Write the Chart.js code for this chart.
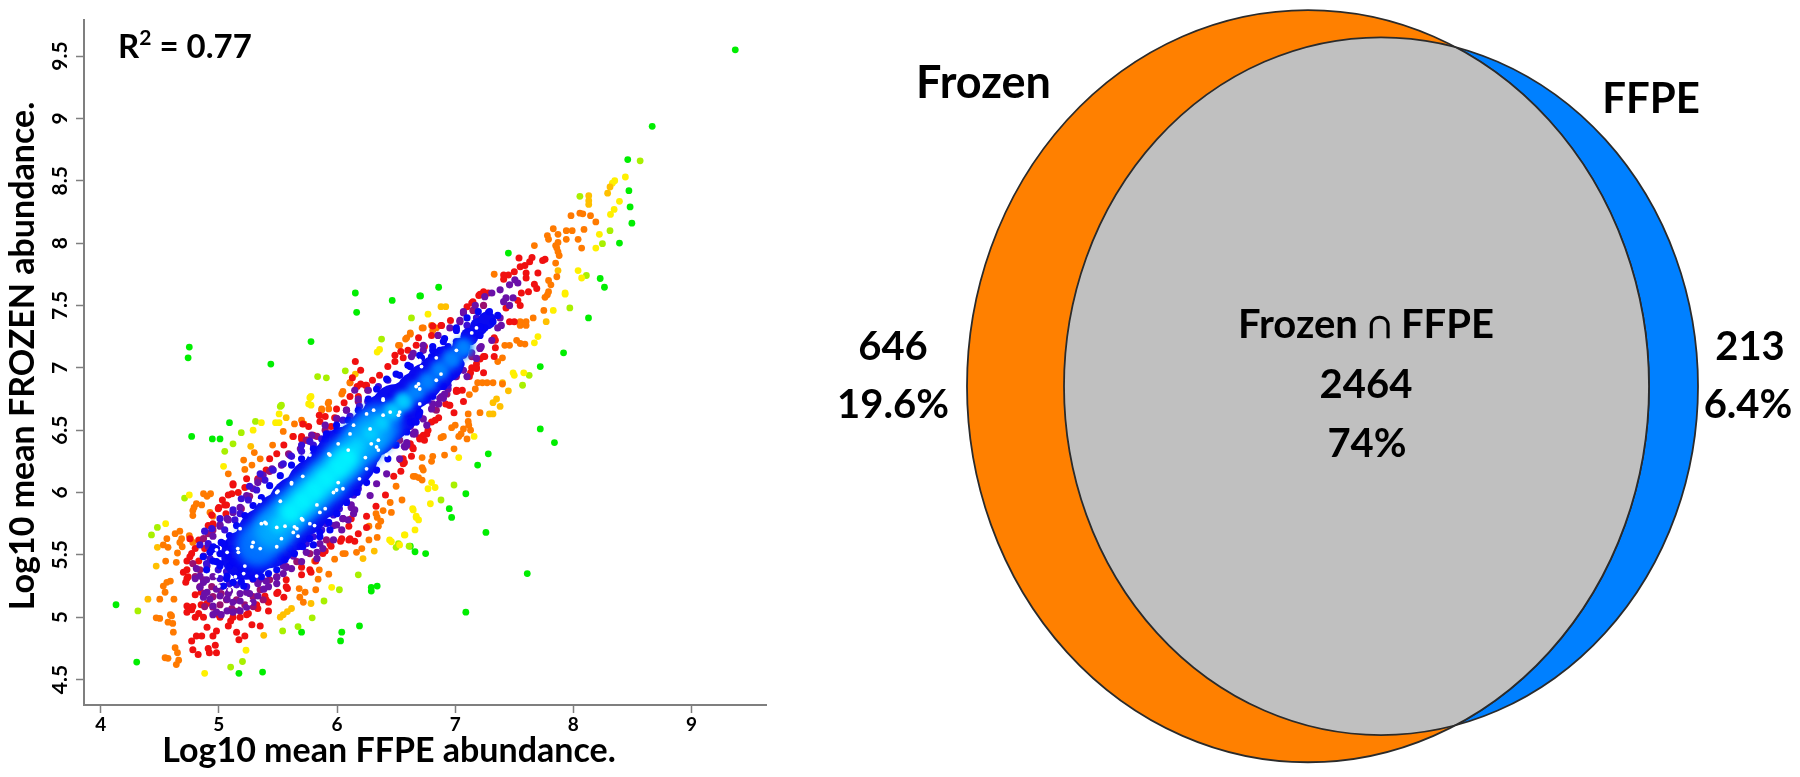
<!DOCTYPE html>
<html>
<head>
<meta charset="utf-8">
<title>Frozen vs FFPE</title>
<script src="https://cdn.jsdelivr.net/npm/chart.js@4"></script>
<style>
  html, body { margin: 0; padding: 0; background: #fff; }
  #wrap { position: relative; width: 1800px; height: 777px; overflow: hidden; }
  #scatterBox { position: absolute; left: 0; top: 0; width: 800px; height: 777px; }
  #vennBox { position: absolute; left: 800px; top: 0; width: 1000px; height: 777px; }
</style>
</head>
<body>
<div id="wrap">
  <div id="scatterBox"><canvas id="scatterChart"></canvas></div>
  <div id="vennBox"><canvas id="vennChart"></canvas></div>
</div>
<script>
// axis ticks
const xTicks = [4, 5, 6, 7, 8, 9];
const yTicks = [4.5, 5, 5.5, 6, 6.5, 7, 7.5, 8, 8.5, 9, 9.5];
const xAxisName = 'Log10 mean FFPE abundance.';
const yAxisName = 'Log10 mean FROZEN abundance.';
const r2Parts = ['R', '2', ' = 0.77'];

// sparse points, grouped by density colour
const greenPts = [[6.155,7.6],[6.166,7.445],[6.467,7.54],[6.7,7.576],[5.78,7.21],[4.75,7.166],[4.74,7.08],[5.44,7.03],
  [9.37,9.55],[8.667,8.936],[8.46,8.67],[8.47,8.42],[8.48,8.29],[8.495,8.16],[8.39,8],[7.45,7.92],[8.227,7.716],[8.263,7.646],
  [8.128,7.4],[7.917,7.12],[7.72,7.01],[6.86,7.646],[6.707,7.576],[7.72,6.51],[7.84,6.4],[7.28,6.31],[7.19,6.22],[7.09,5.99],
  [6.97,5.8],[6.95,5.87],[7.26,5.68],[6.75,5.51],[6.66,5.525],[7.61,5.35],[7.09,5.04],[4.13,5.1],[4.305,4.64],[4.77,6.45],
  [4.945,6.43],[5.01,6.43],[5.09,6.56],[6.03,4.81],[6.04,4.88],[6.19,4.93],[5.7,4.88],[6.29,5.24],[6.29,5.21],[6.34,5.25],
  [5.17,4.55],[5.37,4.56],[6.62,5.57]];
const limePts = [[5.836,6.93],[5.91,6.92],[6.07,6.976],[6.377,7.23],[6.63,7.4],[8.565,8.66],[8.055,8.375],[7.97,7.48],[7.626,6.94],
  [7.57,6.86],[8.31,8.1],[8.246,7.995],[8.11,7.74],[6.99,6.06],[6.88,5.94],[6.61,5.57],[4.315,5.05],[4.43,5.66],[4.48,5.72],
  [4.71,5.955],[5.12,6.39],[5.05,6.33],[5.19,6.48],[5.31,6.57],[5.52,6.69],[5.53,6.7],[5.67,4.925],[5.54,4.89],[5.79,4.995],
  [5.89,5.13],[6.02,5.22],[6.18,5.34],[6.52,5.59],[6.5,5.56],[5.1,4.6],[5.2,4.645]];
const yellowPts = [[6.34,7.126],[6.36,7.147],[5.77,6.76],[8.44,8.53],[8.35,8.5],[8.33,8.48],[8.39,8.335],[8.345,8.27],[8.314,8.23],
  [8.22,8.07],[8.19,7.96],[8.04,7.78],[8.07,7.72],[7.93,7.6],[7.93,7.59],[7.83,7.46],[7.7,7.25],[7.67,7.2],[7.49,6.96],[7.5,6.94],
  [7.58,6.96],[6.77,7.43],[7.16,6.45],[7.03,6.28],[6.8,6.08],[6.83,6.04],[6.77,6.03],[6.79,5.91],[6.64,5.87],[6.67,5.81],[6.69,5.78],
  [6.66,5.7],[6.57,5.66],[6.53,5.58],[4.55,5.75],[4.75,5.98],[5.36,6.56],[5.29,6.5],[5.04,6.21],[5.51,6.63],[5.48,6.56],[5.51,6.56],
  [5.78,6.77],[5.76,6.71],[5.78,6.7],[5.955,5.24],[6.445,5.62],[6.46,5.605],[6.575,5.66],[6.67,5.8],[6.645,5.86],[4.88,4.55],[5.23,4.735]];
const amberPts = [[6.155,6.95],[8.31,8.45],[8.29,8.4],[8.13,8.38],[8.13,8.34],[8.13,8.31],[6.88,7.49],[6.92,7.49],[7.4,6.88],[7.45,6.815],
  [7.35,6.75],[7.32,6.72],[7.38,6.69],[7.29,6.63],[7.32,6.63],[7.77,7.37],[4.47,5.41],[4.48,5.56],[4.4,5.145],[5.27,6.37],[5.57,6.6],
  [6.315,5.53],[6.22,5.47],[5.38,4.855],[5.52,5],[5.545,5.02],[5.58,5.045],[5.615,5.07],[5.78,5.11],[7.87,7.78]];
const orangePts = [[7.98,8.22],[8.055,8.24],[8.08,8.235],[8.145,8.22],[8.19,8.17],[8.09,8.11],[7.94,8.1],[7.99,8.1],[7.83,8.115],[7.78,8.06],
  [7.79,8.03],[7.87,8.07],[7.87,8.005],[7.85,7.98],[7.86,7.96],[7.87,7.93],[7.88,7.9],[7.94,8.03],[8.04,8.03],[8.07,7.96],[7.67,7.98],
  [7.85,7.84],[7.86,7.73],[7.79,7.7],[7.81,7.665],[7.79,7.61],[7.78,7.585],[7.76,7.565],[7.75,7.46],[7.66,7.4],[7.55,7.37],[7.6,7.37],
  [7.55,7.34],[7.6,7.34],[7.33,7.75],[7.52,7.22],[7.55,7.195],[7.59,7.19],[7.42,7.18],[7.46,7.18],[7.36,7.05],[7.4,7.08],[7.4,6.87],
  [7.19,6.88],[7.23,6.88],[7.27,6.88],[7.32,6.88],[7.17,6.83],[7.12,6.785],[6.62,7.27],[6.58,7.23],[6.52,7.18],[6.72,7.32],[6.8,7.34],
  [6.84,7.32],[6.11,6.88],[7.21,6.64],[7.11,6.63],[7.11,6.57],[7.115,6.54],[7.13,6.5],[7.07,6.51],[7.05,6.47],[7.03,6.45],[7,6.54],
  [6.97,6.52],[7.1,6.43],[6.9,6.45],[6.88,6.44],[6.99,6.35],[6.91,6.3],[6.81,6.29],[6.8,6.25],[6.72,6.28],[6.72,6.2],[6.73,6.18],
  [6.66,6.13],[6.69,6.12],[6.72,6.1],[6.55,5.94],[5.08,6.15],[5.545,6.49],[4.545,4.675],[4.57,4.67],[4.64,4.62],[4.66,4.655],[4.63,4.755],
  [4.65,4.715],[4.5,4.99],[4.47,4.995],[4.57,4.96],[4.61,4.95],[4.615,4.88],[4.59,5.02],[4.6,5.01],[4.5,5.145],[4.545,5.2],[4.59,5.29],
  [4.56,5.28],[4.53,5.25],[4.62,5.145],[4.55,5.45],[4.56,5.63],[4.53,5.58],[4.57,5.56],[4.64,5.44],[4.65,5.515],[4.63,5.67],[4.67,5.69],
  [4.685,5.63],[4.67,5.6],[4.69,5.565],[4.75,5.655],[4.76,5.63],[4.78,5.6],[4.78,5.815],[4.78,5.855],[4.81,5.91],[4.855,5.9],[4.79,5.88],
  [4.87,5.99],[4.93,5.99],[4.9,5.97],[4.925,5.84],[4.95,5.81],[5.21,6.26],[5.22,6.185],[5.28,6.22],[5.35,6.27],[5.455,6.38],[5.3,6.32],
  [5.64,6.55],[5.7,6.58],[5.72,6.55],[5.625,6.45],[5.87,6.67],[5.93,6.67],[5.93,6.725],[6.05,6.81],[5.68,5.23],[5.685,5.16],[5.715,5.12],
  [5.73,5.2],[5.82,5.22],[5.84,5.305],[5.93,5.345],[5.85,5.38],[5.81,5.45],[5.98,5.465],[6.05,5.51],[6.07,5.51],[6.165,5.52],[6.21,5.55],
  [6.27,5.62],[6.34,5.64],[6.27,5.73],[6.34,5.8],[6.37,5.77],[6.35,5.73],[6.33,5.83],[6.39,5.855],[6.46,5.84],[6.45,5.92],[6.5,6.05],[6.645,6.13],
  [5.87,6.66],[5.925,6.715],[6.04,6.79],[6.11,6.88],[6.53,7.18],[6.59,7.24],[6.62,7.28],[6.73,7.32],[6.81,7.3]];
const redPts = [[7.54,7.88],[7.65,7.885],[7.63,7.85],[7.59,7.82],[7.55,7.81],[7.76,7.87],[7.74,7.86],[7.7,7.76],[7.67,7.67],[7.69,7.635],
  [7.6,7.76],[7.6,7.72],[7.41,7.745],[7.45,7.745],[7.5,7.77],[7.41,7.71],[7.62,7.61],[7.56,7.6],[7.55,7.5],[7.53,7.54],[7.46,7.37],[7.5,7.37],
  [7.43,7.48],[7.2,7.58],[7.24,7.61],[7.28,7.6],[7.14,7.52],[7.1,7.49],[6.96,7.38],[6.88,7.34],[6.81,7.335],[6.69,7.24],[6.67,7.18],
  [6.74,7.17],[6.54,7.13],[6.49,7.1],[7.34,7.22],[7.33,7.24],[7.34,7.16],[7.33,7.09],[7.24,7.09],[7.21,7.07],[7.18,7.03],[7.18,7],[7.24,6.96],
  [7.14,7],[7.13,6.96],[7.01,6.81],[7.06,6.82],[7.07,6.73],[6.99,6.64],[7.02,6.815],[6.95,6.7],[6.92,6.71],[6.86,6.6],[6.83,6.58],[6.8,6.565],
  [6.77,6.5],[6.76,6.47],[6.73,6.46],[6.7,6.44],[6.74,6.42],[6.64,6.36],[6.62,6.39],[6.63,6.29],[6.54,6.26],[6.56,6.27],[6.56,6.23],[6.54,6.17],
  [6.155,7.05],[6.2,6.98],[6.13,6.92],[6.17,6.85],[6.25,6.86],[6.3,6.9],[5.85,6.62],[5.98,6.6],[5.95,6.53],[6.06,6.72],[6.11,6.77],[6.2,6.87],
  [4.77,4.81],[4.81,4.85],[4.855,4.85],[4.78,4.74],[4.825,4.7],[4.91,4.75],[4.92,4.715],[4.98,4.715],[4.97,4.775],[4.9,4.92],[4.95,4.85],
  [4.98,4.89],[5.08,4.93],[5.15,4.88],[5.17,4.82],[5.22,4.85],[5.28,4.94],[5.35,4.93],[4.73,5.09],[4.77,5.06],[4.73,5.04],[4.8,5],[4.87,5],
  [4.7,5.36],[4.73,5.31],[4.72,5.28],[4.77,5.51],[4.73,5.45],[4.84,5.61],[4.8,5.55],[4.91,5.735],[4.95,5.75],[5,5.88],[5.05,5.9],[5.11,5.99],
  [5.12,6.07],[5.235,6.11],[5.22,6.04],[5.43,6.27],[5.4,6.18],[5.35,6.11],[5.55,6.38],[5.7,6.45],[5.75,6.42],[5.03,5.94],[5.06,5.83],
  [5.39,5.17],[5.5,5.2],[5.57,5.3],[5.42,5.12],[5.58,5.23],[5.55,5.16],[5.7,5.4],[5.78,5.36],[5.82,5.45],[5.9,5.53],[5.95,5.57],[6.03,5.61],
  [6.1,5.73],[6.25,5.81],[6.33,5.89],[6.41,5.98],[6.48,6.13],[6.57,6.24],[5.1,4.97],[5.18,5],[5.25,5.03],[5.32,5.1],[5.42,5.05],[5,5.02],[4.85,5.1],
  [4.85,5.2],[4.8,5.18],[4.83,5.45],[4.88,5.55],[6.18,5.67],[6.25,5.72],[6.1,5.62],
  [4.78,5.085],[4.83,5.03],[4.9,5.11],[5.01,5],[5.12,5],[5.235,5.02],[5.33,5.07],[5.4,5.14],[5.49,5.19],[5.57,5.245],[5.7,5.34],[5.77,5.38],
  [5.88,5.51],[5.94,5.59],[6.04,5.63],[6.11,5.63],[6.15,5.61],[6.12,5.79],[4.755,5.485],[4.73,5.38],[4.74,5.325],[4.755,5.63],[4.83,5.62],
  [4.95,5.74],[4.94,5.82],[4.995,5.87],[5.065,5.9],[5.08,5.98],[5.12,6.06],[5.164,6],[5.33,6.11],[5.49,6.31],[5.63,6.45],[5.7,6.43],[5.8,6.46],
  [6.36,6.94],[6.43,7.01],[6.49,7.05],[6.56,7.08],[6.6,7.14],[6.8,7.26],[6.885,7.34],[7.15,7.53],[7.21,7.59],[6.18,6.77],[6.24,6.86],
  [5.996,6.67],[5.855,6.57],[5.76,6.53],[5.9,6.61],[5.71,6.55],[7.01,6.82],[6.955,6.7],[7.12,6.93],[7.18,6.995],[7.25,7.09],[6.7,6.43],[6.645,6.35]];
const plumPts = [[4.78,5.43],[4.84,5.38],[4.8,5.325],[4.87,5.3],[4.94,5.245],[4.84,5.245],[4.95,5.165],[5.02,5.19],[5.065,5.14],[5.15,5.14],
  [5.22,5.1],[5.29,5.165],[5.35,5.22],[5.43,5.3],[5.49,5.325],[5.57,5.405],[5.66,5.445],[5.77,5.51],[5.91,5.62],[4.87,5.63],[4.91,5.67],
  [4.95,5.7],[5.19,5.87],[5.26,5.97],[5.33,6.1],[5.43,6.17],[5.59,6.31],[5.74,6.42],[7.21,7.16],[7.14,7.09],[7.01,6.93],[6.93,6.79],[6.84,6.66],[6.66,6.47],
  [6.26,6.82],[6.18,6.73],[6.08,6.66],[5.996,6.595],[5.9,6.5],[5.83,6.45],[7.24,7.5],[7.15,7.46],
  [4.88,5.085],[4.95,5.08],[5.01,5.1],[5.11,5.07],[5.16,5.06],[5.29,5.085],[5.375,5.14],[6.53,6.42],[6.48,6.38],[6.59,6.38]];
const purplePts = [[4.81,5.39],[4.84,5.33],[4.87,5.28],[4.8,5.31],[4.9,5.41],[4.87,5.49],[4.91,5.57],[4.95,5.65],[4.84,5.24],[4.9,5.2],
  [4.87,5.16],[4.925,5.145],[4.95,5.09],[4.98,5.04],[5.02,5.02],[4.95,5.02],[5.07,5.05],[5.12,5.04],[5.18,5.05],[5.235,5.08],[5.29,5.12],
  [5.33,5.17],[5.38,5.225],[5.4,5.29],[5.35,5.305],[5.29,5.305],[5.235,5.2],[5.18,5.13],[5.12,5.12],[5.07,5.145],[5.01,5.17],[4.98,5.225],
  [5.09,5.21],[5.235,5.975],[5.29,6.03],[5.33,6.08],[5.375,6.14],[5.45,6.19],[5.53,6.22],[5.6,6.3],[5.69,6.35],[5.785,6.46],[5.9,6.54],[6,6.59],
  [6.08,6.66],[6.18,6.75],[6.265,6.82],[5.18,5.88],[5.12,5.84],[5.07,5.79],[5.01,5.73],[6.15,6.82],[5.63,5.49],[5.545,5.41],[5.74,5.52],[5.855,5.59],
  [5.83,5.52],[5.97,5.735],[6.05,5.79],[6.12,5.88],[6.14,5.83],[6.28,5.975],[6.335,6.07],[6.42,6.15],[6.53,6.27],[6.575,6.365],[6.645,6.47],[6.59,6.4],
  [5.49,5.32],[5.57,5.4],[7.505,7.705],[7.46,7.665],[7.53,7.68],[7.38,7.625],[7.43,7.56],[7.49,7.56],[7.46,7.5],[7.41,7.53],[7.31,7.6],[7.25,7.57],
  [7.17,7.5],[7.07,7.44],[7.38,7.4],[7.39,7.34],[7.36,7.32],[7.04,7.37],[6.955,7.32],[6.855,7.26],[6.73,7.14],[6.63,7.09],[7.31,7.22],[7.21,7.155],
  [7.18,7.075],[7.1,6.93],[7,6.93],[6.94,6.83],[6.885,6.77],[6.91,6.79],[6.86,6.71],[6.8,6.67],[6.73,6.59],[6.66,6.485],[6.59,6.38],
  [5.996,5.74],[6.05,5.79],[6.12,5.9],[6.15,5.86],[5.01,5.74],[5.08,5.78],[6.645,7.115],[6.73,7.18],[7.07,7.45],[7.04,7.38],[6.9,6.755],[6.76,6.54],[6.57,6.37],
  [4.896,5.3],[4.95,5.325],[5.02,5.245],[5.08,5.19],[5.18,5.19],[5.26,5.19],[5.33,5.27],[5.42,5.245],[5.49,5.27],[5.545,5.35],[5.615,5.39],[5.7,5.445],[5.83,5.47],
  [5.88,5.55],[5.97,5.62],[6.04,5.7],[6.095,5.78],[4.88,5.19],[6.9,6.85],[6.81,6.71],[6.87,6.755],[7.07,6.98],[7.14,7.12],[7.22,7.17],[6.7,6.61],[6.62,6.53]];
const indigoPts = [[4.995,5.38],[5.065,5.365],[5.01,5.31],[5.09,5.27],[5.15,5.26],[5.235,5.245],[4.896,5.43],[4.925,5.47],[5.46,5.43],[5.53,5.47],
  [5.6,5.525],[5.67,5.565],[5.74,5.59],[5.8,5.645],[5.87,5.7],[5.91,5.75],[5.97,5.82],[6.02,5.87],[6.08,5.93],[6.14,5.98],[6.18,6.03],[5.05,5.7],
  [5.136,5.78],[5.18,5.83],[5.25,5.94],[5.32,6.02],[5.39,6.1],[5.46,6.18],[5.545,6.23],[5.615,6.29],[5.7,6.33],[5.8,6.38],[5.87,6.43],[5.94,6.47],
  [5.7,6.38],[5.77,6.41],[6.05,6.58],[6.11,6.61],[6.19,6.69],[6.26,6.73],[6.35,6.85],[6.43,6.9],[7.1,7.34],[7.18,7.4],[7.28,7.44],[6.77,6.74],[6.81,6.79],[7.07,7.1],[7.07,7.2],
  [5.26,6.05],[5.35,6.15],[5.19,5.95],[5.12,5.86],[5.01,5.79],[4.94,5.71],[4.88,5.69],[4.84,5.58],[4.91,5.59],[6.94,6.86],[7.01,6.98]];
const blueEdgePts = [[4.925,5.52],[4.98,5.55],[5.02,5.6],[5.09,5.655],[4.95,5.45],[5.01,5.41],[5.09,5.41],[5.07,5.33],[5.15,5.33],[5.12,5.28],
  [5.21,5.25],[5.04,5.25],[5.18,5.41],[5.26,5.39],[5.32,5.41],[5.375,5.41],[5.4,5.47],[5.46,5.45],[5.52,5.49],[5.6,5.55],[5.69,5.57],[5.77,5.63],
  [5.855,5.68],[5.93,5.76],[6,5.83],[6.08,5.92],[6.17,6],[6.25,6.08],[6.335,6.18],[6.43,6.27],[6.5,6.38],[6.59,6.485],[6.67,6.565],[5.15,5.735],
  [5.22,5.815],[5.29,5.895],[5.36,5.96],[5.43,6.055],[5.52,6.135],[5.615,6.22],[5.7,6.27],[5.8,6.35],[5.9,6.43],[6,6.5],[6.095,6.58],[6.18,6.66],
  [6.265,6.75],[6.335,6.83],[6.42,6.91],[6.81,7.14],[6.91,7.235],[7.01,7.32],[7.1,7.4],[7.195,7.45],[7.29,7.45],[7.36,7.42],[7.32,7.37],[7.25,7.32],
  [7.21,7.26],[7.11,7.22],[7.08,7.115],[7.05,7.03],[6.955,6.93],[6.9,6.85],[6.81,6.77],[6.76,6.75],[6.7,6.645],[6.62,6.565],[6.5,6.95],[6.6,7.02],[6.7,7.1],
  [4.953,5.565],[5.01,5.51],[5.08,5.485],[5.15,5.43],[5.19,5.38],[5.26,5.405],[5.33,5.38],[5.4,5.43],[4.98,5.445],[5.11,5.55],[5.2,5.6],[5.05,5.58],[5.14,5.65],
  [5.91,6.47],[5.996,6.54],[6.53,6.94],[6.62,7.01],[6.715,7.08],[6.81,7.17],[6.9,7.21],[7.01,7.3],[6.48,6.45],[6.66,6.57],[6.69,6.62],[6.86,6.875],[6.94,6.955],[7.01,7.02],
  [4.896,5.38],[4.868,5.485],[4.94,5.54],[5.04,5.59],[5.11,5.645],[5.01,5.43],[5.12,5.445],[5.19,5.485],[5.277,5.47],[5.35,5.485],[5.43,5.5],[5.065,5.31],[5.19,5.285],
  [5.29,5.31],[5.36,5.325],[5.42,5.35],[5.49,5.38],[5.56,5.46],[5.64,5.51],[5.71,5.565],[5.8,5.58],[5.855,5.645],[5.94,5.7],[6.8,7.09],[6.87,7.14],[6.94,7.17],[7.01,7.21],
  [7.08,7.24],[7.15,7.28],[7.21,7.33],[7.01,7.09],[6.93,7.01],[6.84,6.97]];

// dense centre of the cloud, wide overlapping marks from dark to bright
const blueWidePts = [[5.41,5.64],[5.53,5.75],[5.68,5.89],[5.83,6.03],[5.98,6.17],[6.08,6.28]];
const blueMidPts = [[5.23,5.5],[5.31,5.56],[6.18,6.37],[6.31,6.49],[6.42,6.6],[6.5,6.67]];
const blueThinPts = [[6.58,6.75],[6.66,6.82],[6.74,6.89],[6.84,6.96],[6.92,7.03]];
const blueTipPts = [[6.98,7.1],[7.05,7.17],[7.12,7.25],[7.2,7.33],[7.27,7.38]];
const azurePts = [[5.33,5.58],[5.48,5.72],[5.63,5.86],[5.78,5.99],[5.93,6.12],[6.08,6.27],[6.23,6.42],[6.36,6.54]];
const azureThinPts = [[6.47,6.65],[6.57,6.73],[6.67,6.81],[6.77,6.89],[6.87,6.98],[6.97,7.07],[7.07,7.16]];
const skyPts = [[5.45,5.69],[5.58,5.81],[5.73,5.95],[5.88,6.08],[6.03,6.23],[6.18,6.37],[6.3,6.48]];
const palePts = [[5.5,5.74],[6.18,6.38],[6.28,6.47],[6.38,6.56],[6.47,6.65],[6.56,6.73]];
const cyanPts = [[5.61,5.84],[5.71,5.93],[5.81,6.02],[5.91,6.11],[6.01,6.2],[6.09,6.28]];
// small holes between the marks
const gapPts = [[4.98,5.33],[5,5.25],[5.22,5.41],[5.32,5.33],[5.165,5.52],[5.07,5.52],[5.39,5.76],[5.33,5.935],[5.63,5.68],[5.66,5.71],[5.7,5.79],
  [5.855,5.84],[5.9,5.87],[5.97,6],[5.81,5.735],[6.01,6.08],[6.095,6.34],[6.24,6.28],[6.335,6.365],[6.35,6.42],[6.28,6.51],[6.39,6.75],[6.45,6.645],
  [6.53,6.645],[5.77,6.3],[5.5,6.01],[5.615,6.08],[5.49,5.72],[5.53,5.63],[5.4,5.75],[5.29,5.6],[6.11,6.47],[6.14,6.54],[6.01,6.39],[5.93,6.31],
  [6.25,6.19],[6.19,6.11],[6.42,6.3],[6.7,6.83],[6.69,6.87],[6.88,6.95],[7.01,7.14],[7.18,7.32],[7.14,7.28],[6.84,7.08],
  [5.18,5.71],[5.36,5.75],[5.16,5.55],[5.35,5.55],[5.28,5.565],[5.21,5.35],[5.14,5.325],[5.09,5.22],[5.15,5.09],[5.26,5.11],[5.52,5.93],[5.56,5.73],
  [5.64,5.725],[5.71,5.78],[5.77,5.75],[5.83,5.9],[5.615,6.07],[5.71,6.13],[5.49,6],[5.35,5.93],[6.05,6.03],[5.996,6.02],[5.94,6.3],[5.67,5.65],
  [4.98,5.54],[5.49,5.565],[6.67,6.85],[6.39,6.74],[6.31,6.66],[6.39,6.62],[6.29,6.39],[6.35,6.34],[6.25,6.63],[6.7,7.06],[6.84,6.9],[6.7,6.71],[6.52,6.62],[6.715,7.01]];

// venn diagram, in percent of its panel width and height
const frozenEllipse = { cx: 50.8, cy: 49.7, rx: 34.1, ry: 48.4 };
const ffpeEllipse = { cx: 58.1, cy: 49.7, rx: 31.7, ry: 44.9 };
const vennLabels = ['Frozen', 'FFPE', 'Frozen ∩ FFPE', '2464', '74%', '646', '19.6%', '213', '6.4%'];
const vennLabelX = [18.35, 85.1, 56.6, 56.6, 56.7, 9.3, 9.3, 95.0, 94.8];
const vennLabelY = [10.8, 12.8, 41.9, 49.6, 57.2, 44.7, 52.1, 44.7, 52.1];
const vennLabelSize = [45, 42, 40, 40, 40, 40, 40, 40, 40];

const fontName = 'Lato, "Open Sans", sans-serif';

function series(name, pts, color, radius, soft) {
    return {
        label: name,
        data: pts.map(p => ({ x: p[0], y: p[1] })),
        backgroundColor: color,
        borderWidth: 0,
        pointRadius: radius,
        pointHoverRadius: radius,
        soft: soft || 0
    };
}

// chart.js paints the first dataset on top, so brightest goes first
const scatterSets = [
    series('gap', gapPts, '#ffffff', 1.9),
    series('cyan', cyanPts, '#00f0ff', 12, 4),
    series('pale', palePts, '#00ccff', 8, 3),
    series('sky', skyPts, '#00aaff', 18, 6),
    series('azureThin', azureThinPts, '#0080ff', 10, 3),
    series('azure', azurePts, '#0070ff', 22, 5),
    series('blueEdge', blueEdgePts, '#0505f5', 3.6),
    series('blueTip', blueTipPts, '#0a0af0', 9),
    series('blueThin', blueThinPts, '#0a0af0', 18),
    series('blueMid', blueMidPts, '#0a0af0', 25),
    series('blueWide', blueWidePts, '#0a0af0', 31),
    series('indigo', indigoPts, '#3a10d8', 3.6),
    series('purple', purplePts, '#6a10a8', 3.6),
    series('plum', plumPts, '#9a1070', 3.6),
    series('red', redPts, '#f01010', 3.5),
    series('orange', orangePts, '#ff7a00', 3.4),
    series('amber', amberPts, '#ffc000', 3.4),
    series('yellow', yellowPts, '#fff000', 3.4),
    series('lime', limePts, '#a8f000', 3.4),
    series('green', greenPts, '#00ee00', 3.4)
];

const softPoints = {
    id: 'softPoints',
    beforeDatasetDraw(chart, args) {
        const soft = chart.data.datasets[args.index].soft;
        chart.ctx.save();
        if (soft) chart.ctx.filter = 'blur(' + soft + 'px)';
    },
    afterDatasetDraw(chart) {
        chart.ctx.restore();
    }
};

const scatterText = {
    id: 'scatterText',
    afterDraw(chart) {
        const ctx = chart.ctx;
        ctx.save();
        ctx.fillStyle = '#000';
        ctx.textBaseline = 'middle';
        ctx.textAlign = 'center';
        ctx.font = 'bold 34px ' + fontName;
        ctx.fillText(xAxisName, 389, 751);
        ctx.save();
        ctx.translate(23, 356);
        ctx.rotate(-Math.PI / 2);
        ctx.fillText(yAxisName, 0, 0);
        ctx.restore();
        // R squared with a raised 2
        ctx.textAlign = 'left';
        ctx.font = 'bold 33px ' + fontName;
        ctx.fillText(r2Parts[0], 118, 47);
        let x = 118 + ctx.measureText(r2Parts[0]).width;
        ctx.font = 'bold 21px ' + fontName;
        ctx.fillText(r2Parts[1], x, 38);
        x += ctx.measureText(r2Parts[1]).width;
        ctx.font = 'bold 33px ' + fontName;
        ctx.fillText(r2Parts[2], x, 47);
        ctx.restore();
    }
};

new Chart(document.getElementById('scatterChart'), {
    type: 'scatter',
    data: { datasets: scatterSets },
    plugins: [softPoints, scatterText],
    options: {
        responsive: true,
        maintainAspectRatio: false,
        animation: false,
        events: [],
        // the wide marks in the centre must not push the plot area in
        layout: { autoPadding: false, padding: { top: 20, right: 34, left: 0, bottom: 0 } },
        plugins: { legend: { display: false }, title: { display: false }, tooltip: { enabled: false } },
        scales: {
            x: {
                min: 3.859,
                max: 9.63,
                afterBuildTicks: s => { s.ticks = xTicks.map(v => ({ value: v })); },
                afterFit: s => { s.height = 72; s.paddingLeft = 0; s.paddingRight = 0; },
                border: { display: true, color: '#7f7f7f', width: 2 },
                grid: { drawOnChartArea: false, drawTicks: true, tickLength: 8, tickColor: '#7f7f7f', tickWidth: 1.5 },
                ticks: { color: '#000', padding: 0, maxRotation: 0, font: { family: fontName, size: 19, weight: 'bold' }, callback: v => String(v) }
            },
            y: {
                min: 4.296,
                max: 9.789,
                afterBuildTicks: s => { s.ticks = yTicks.map(v => ({ value: v })); },
                afterFit: s => { s.width = 84; s.paddingTop = 0; s.paddingBottom = 0; },
                border: { display: true, color: '#7f7f7f', width: 2 },
                grid: { drawOnChartArea: false, drawTicks: true, tickLength: 8, tickColor: '#7f7f7f', tickWidth: 1.5 },
                ticks: { color: '#000', padding: 1, crossAlign: 'center', minRotation: 90, maxRotation: 90, font: { family: fontName, size: 21, weight: 'bold' }, callback: v => String(v) }
            }
        }
    }
});

function tracePath(ctx, s, e) {
    const cx = s.x.getPixelForValue(e.cx);
    const cy = s.y.getPixelForValue(e.cy);
    const rx = Math.abs(s.x.getPixelForValue(e.cx + e.rx) - cx);
    const ry = Math.abs(s.y.getPixelForValue(e.cy + e.ry) - cy);
    ctx.beginPath();
    ctx.ellipse(cx, cy, rx, ry, 0, 0, Math.PI * 2);
}

const vennDraw = {
    id: 'vennDraw',
    afterDatasetsDraw(chart) {
        const ctx = chart.ctx;
        const s = chart.scales;
        ctx.save();
        ctx.lineWidth = 1.8;
        ctx.strokeStyle = '#2b2b2b';
        // outer shapes
        tracePath(ctx, s, ffpeEllipse);
        ctx.fillStyle = '#0080ff';
        ctx.fill();
        ctx.stroke();
        tracePath(ctx, s, frozenEllipse);
        ctx.fillStyle = '#ff8000';
        ctx.fill();
        ctx.stroke();
        // overlap
        ctx.save();
        tracePath(ctx, s, frozenEllipse);
        ctx.clip();
        tracePath(ctx, s, ffpeEllipse);
        ctx.fillStyle = '#c0c0c0';
        ctx.fill();
        ctx.stroke();
        ctx.restore();
        ctx.save();
        tracePath(ctx, s, ffpeEllipse);
        ctx.clip();
        tracePath(ctx, s, frozenEllipse);
        ctx.stroke();
        ctx.restore();
        // labels
        ctx.fillStyle = '#000';
        ctx.textAlign = 'center';
        ctx.textBaseline = 'middle';
        vennLabels.forEach((t, i) => {
            ctx.font = 'bold ' + vennLabelSize[i] + 'px ' + fontName;
            ctx.fillText(t, s.x.getPixelForValue(vennLabelX[i]), s.y.getPixelForValue(vennLabelY[i]));
        });
        ctx.restore();
    }
};

new Chart(document.getElementById('vennChart'), {
    type: 'scatter',
    data: { datasets: [{ data: [] }] },
    plugins: [vennDraw],
    options: {
        responsive: true,
        maintainAspectRatio: false,
        animation: false,
        events: [],
        plugins: { legend: { display: false }, tooltip: { enabled: false } },
        scales: {
            x: { display: false, min: 0, max: 100 },
            y: { display: false, min: 0, max: 100, reverse: true }
        }
    }
});
</script>
</body>
</html>
